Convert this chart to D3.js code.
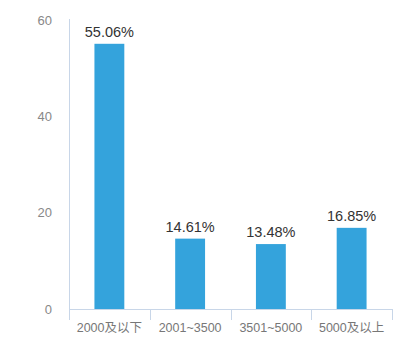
<!DOCTYPE html>
<html><head><meta charset="utf-8">
<script src="https://cdn.jsdelivr.net/npm/d3@7"></script>
<style>body{margin:0;background:#fff}svg{display:block}</style>
</head><body><svg id="c" width="415" height="346"></svg>
<script>
const categories = ["2000及以下", "2001~3500", "3501~5000", "5000及以上"];
const values = [55.06, 14.61, 13.48, 16.85];
const valueLabels = ["55.06%", "14.61%", "13.48%", "16.85%"];
const yTicks = [0, 20, 40, 60];

(function () {
const svg = d3.select("#c");
const mL = 69, mR = 392, mT = 20, mB = 309;
const font = "'Liberation Sans', 'Noto Sans CJK SC', sans-serif";
const axisColor = "#c8d6e8";

const x = d3.scaleBand().domain(categories).range([mL, mR]).paddingInner(0.63).paddingOuter(0.315);
const y = d3.scaleLinear().domain([0, 60]).range([mB, mT]);

// y axis
const ya = svg.append("g").attr("transform", `translate(${mL},0)`)
  .call(d3.axisLeft(y).tickValues(yTicks).tickSize(0).tickPadding(17));
ya.select(".domain").remove();
ya.selectAll("text").attr("fill", "#888").style("font-family", font).style("font-size", "13px");
svg.append("line").attr("x1", mL + 0.5).attr("x2", mL + 0.5).attr("y1", mT - 1).attr("y2", mB + 11)
  .attr("stroke", axisColor).attr("stroke-width", 1);

// bars
svg.selectAll("rect.bar").data(values).join("rect").attr("class", "bar")
  .attr("x", (d, i) => x(categories[i])).attr("width", x.bandwidth())
  .attr("y", d => y(d)).attr("height", d => y(0) - y(d)).attr("fill", "#34a3dc");

// x axis
const xs = d3.scalePoint().domain(d3.range(categories.length + 1)).range([mL, mR]);
svg.append("line").attr("x1", mL).attr("x2", mR).attr("y1", mB + 0.5).attr("y2", mB + 0.5)
  .attr("stroke", axisColor);
svg.selectAll("line.xt").data(d3.range(categories.length + 1)).join("line").attr("class", "xt")
  .attr("x1", d => Math.round(xs(d)) + 0.5).attr("x2", d => Math.round(xs(d)) + 0.5)
  .attr("y1", mB).attr("y2", mB + 11).attr("stroke", axisColor);
svg.selectAll("text.xl").data(categories).join("text").attr("class", "xl")
  .attr("x", d => x(d) + x.bandwidth() / 2).attr("y", 332).attr("text-anchor", "middle")
  .attr("fill", "#777").style("font-family", font).style("font-size", "12.5px").text(d => d);

// value labels
svg.selectAll("text.vl").data(values).join("text").attr("class", "vl")
  .attr("x", (d, i) => x(categories[i]) + x.bandwidth() / 2).attr("y", d => y(d) - 7)
  .attr("text-anchor", "middle").attr("fill", "#333").style("font-family", font).style("font-size", "14.5px")
  .text((d, i) => valueLabels[i]);
})();
</script></body></html>
